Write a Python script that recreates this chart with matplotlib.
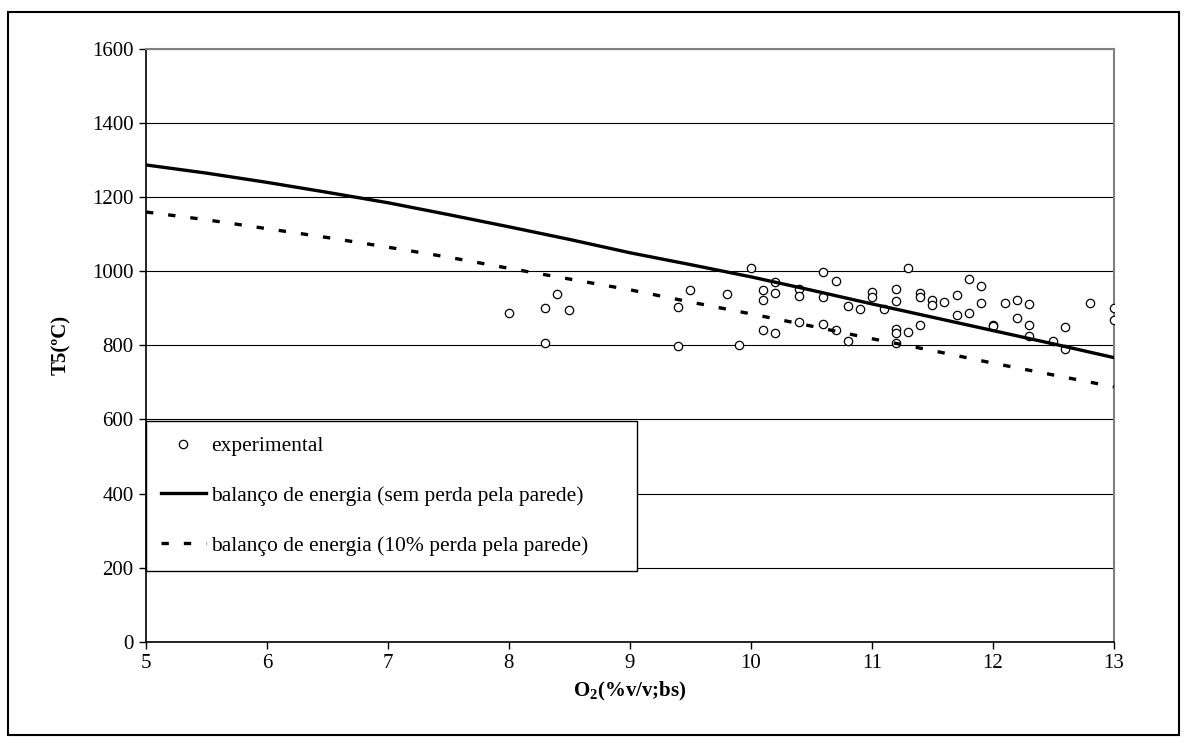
import matplotlib
matplotlib.use('Agg')
import matplotlib.pyplot as plt
from matplotlib.patches import Rectangle

plt.rcParams['font.family'] = ['Liberation Serif', 'DejaVu Serif']
plt.rcParams['mathtext.fontset'] = 'custom'
plt.rcParams['mathtext.rm'] = 'Liberation Serif'
plt.rcParams['mathtext.bf'] = 'Liberation Serif:bold'

# dados experimentais
o2_exp = [8.0, 8.3, 8.3, 8.4, 8.5, 9.4, 9.4, 9.5, 9.8, 9.9,
          10.0, 10.1, 10.1, 10.1, 10.2, 10.2, 10.2, 10.4, 10.4, 10.4,
          10.6, 10.6, 10.6, 10.7, 10.7, 10.8, 10.8, 10.9, 11.0, 11.0,
          11.1, 11.2, 11.2, 11.2, 11.2, 11.2, 11.3, 11.3, 11.4, 11.4,
          11.4, 11.5, 11.5, 11.6, 11.7, 11.7, 11.8, 11.8, 11.9, 11.9,
          12.0, 12.0, 12.1, 12.2, 12.2, 12.3, 12.3, 12.3, 12.5, 12.6,
          12.6, 12.8, 13.0, 13.0]
t5_exp = [887, 902, 806, 938, 896, 903, 798, 950, 938, 802,
          1008, 950, 922, 842, 971, 942, 832, 951, 934, 862,
          997, 930, 858, 973, 842, 905, 813, 899, 944, 930,
          899, 951, 921, 843, 832, 805, 1008, 837, 942, 930,
          855, 922, 909, 917, 935, 881, 980, 888, 960, 913,
          855, 853, 915, 922, 875, 911, 854, 825, 813, 850,
          789, 914, 902, 869]

# balanço de energia
o2_bal = [5.0, 5.5, 6.0, 6.5, 7.0, 7.5, 8.0, 8.5, 9.0, 9.5,
          10.0, 10.5, 11.0, 11.5, 12.0, 12.5, 13.0]
t5_sem_perda = [1287, 1265, 1240, 1213, 1185, 1153, 1120, 1086, 1050, 1018,
                985, 949, 912, 876, 840, 804, 767]
t5_10_perda = [1160, 1139, 1115, 1091, 1065, 1038, 1008, 979, 950, 917,
               885, 852, 818, 786, 752, 720, 688]

fig = plt.figure(figsize=(11.87, 7.45), dpi=100)
ax = fig.add_axes([0.123, 0.1387, 0.8153, 0.7955])

ax.grid(axis='y', color='black', linewidth=0.8, zorder=0)
ax.set_axisbelow(True)

ax.plot(o2_exp, t5_exp, 'o', mfc='white', mec='black', ms=6, mew=0.9,
        linestyle='none', label='experimental', zorder=3)
ax.plot(o2_bal, t5_sem_perda, '-', color='black', lw=2.4,
        label='balanço de energia (sem perda pela parede)', zorder=4)
ax.plot(o2_bal, t5_10_perda, color='black', lw=2.4, linestyle=(0, (2.2, 4.5)),
        label='balanço de energia (10% perda pela parede)', zorder=4)

ax.set_xlim(5, 13)
ax.set_ylim(0, 1600)
ax.set_xticks(range(5, 14))
ax.set_yticks(range(0, 1601, 200))
ax.tick_params(direction='out', length=5, width=1, labelsize=15, pad=4)
for s in ['left', 'bottom']:
    ax.spines[s].set_color('black')
    ax.spines[s].set_linewidth(1.2)
for s in ['top', 'right']:
    ax.spines[s].set_color('#808080')
    ax.spines[s].set_linewidth(1.5)

ax.set_xlabel(r'O$_\mathbf{2}$(%v/v;bs)', fontsize=15, fontweight='bold')
ax.set_ylabel('T5(ºC)', fontsize=15, fontweight='bold')
ax.xaxis.set_label_coords(0.5, -0.065)
ax.yaxis.set_label_coords(-0.077, 0.5)

leg = ax.legend(loc='lower left', bbox_to_anchor=(0.0, 0.12, 0.507, 0.253),
                mode='expand', fontsize=15.5, frameon=True, fancybox=False,
                edgecolor='black', framealpha=1, borderaxespad=0,
                handlelength=2.1, handletextpad=0.25, labelspacing=1.38,
                borderpad=0.69)
leg.get_frame().set_linewidth(1.0)
leg.set_zorder(5)

fig.patches.append(Rectangle((0.0067, 0.013), 0.9866, 0.971, transform=fig.transFigure,
                             fill=False, edgecolor='black', linewidth=1.5))

fig.savefig('out.png', dpi=100)
